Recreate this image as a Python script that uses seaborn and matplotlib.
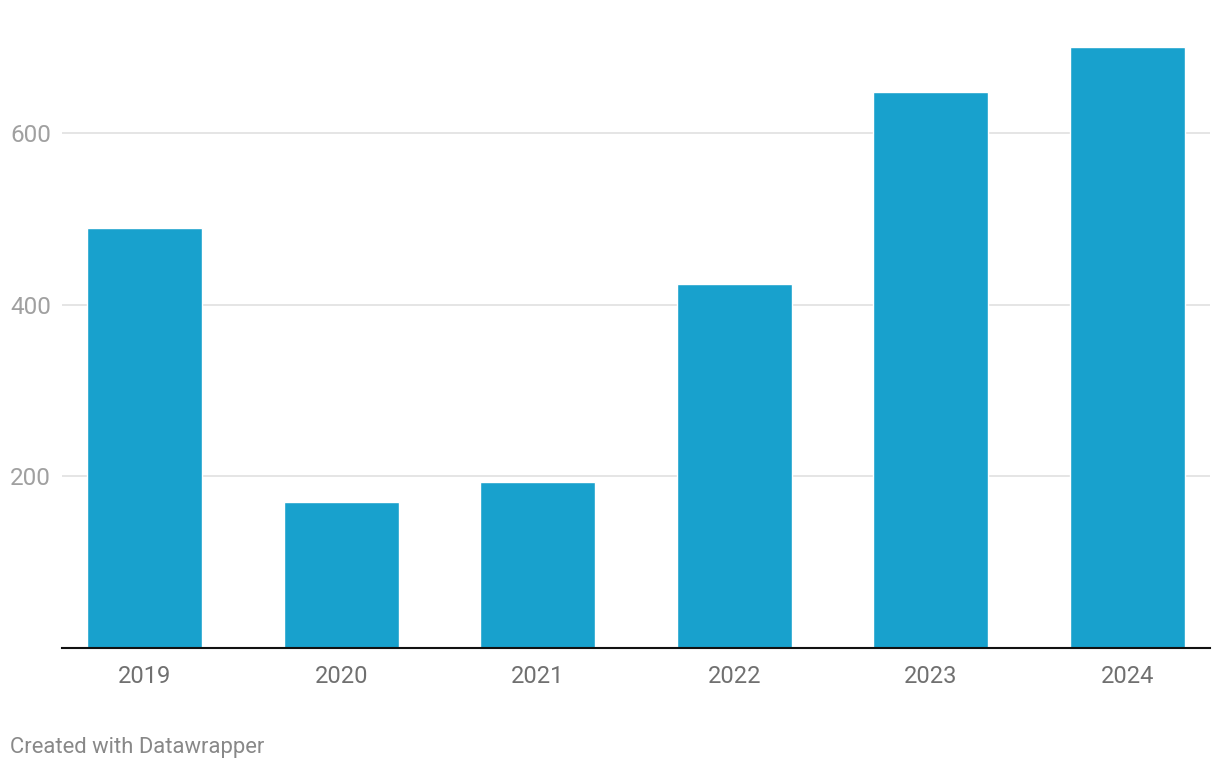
import matplotlib
matplotlib.use("Agg")
import matplotlib.pyplot as plt
import pandas as pd
import seaborn as sns

# values
years = ["2019", "2020", "2021", "2022", "2023", "2024"]
values = [489, 170, 193, 424, 648, 700]
yticks = [200, 400, 600]

df = pd.DataFrame({"year": years, "value": values})

sns.set_style("white")
plt.rcParams["font.family"] = ["Roboto", "DejaVu Sans"]

fig = plt.figure(figsize=(12.2, 7.7), dpi=100)
ax = fig.add_axes([62 / 1220, 122 / 770, 1148 / 1220, 618 / 770])

sns.barplot(data=df, x="year", y="value", color="#18a1cd", width=0.585,
            saturation=1, ax=ax, zorder=3)

ax.set_xlim(-0.42, 5.42)
ax.set_ylim(0, 720)
ax.set_yticks(yticks)
ax.grid(axis="y", color="#e3e3e3", linewidth=1.3, zorder=0)
ax.set_xlabel("")
ax.set_ylabel("")

for s in ["top", "right", "left"]:
    ax.spines[s].set_visible(False)
ax.spines["bottom"].set_color("#111111")
ax.spines["bottom"].set_linewidth(1.5)
ax.spines["bottom"].set_zorder(4)

ax.tick_params(axis="x", length=0, pad=12, labelsize=17, labelcolor="#707070")
ax.tick_params(axis="y", length=0, pad=8, labelsize=17.5, labelcolor="#a0a0a0")

fig.text(10 / 1220, 1 - 747 / 770, "Created with Datawrapper", fontsize=15.8,
         color="#888888", va="center", ha="left")

fig.savefig("out.png", dpi=100)
